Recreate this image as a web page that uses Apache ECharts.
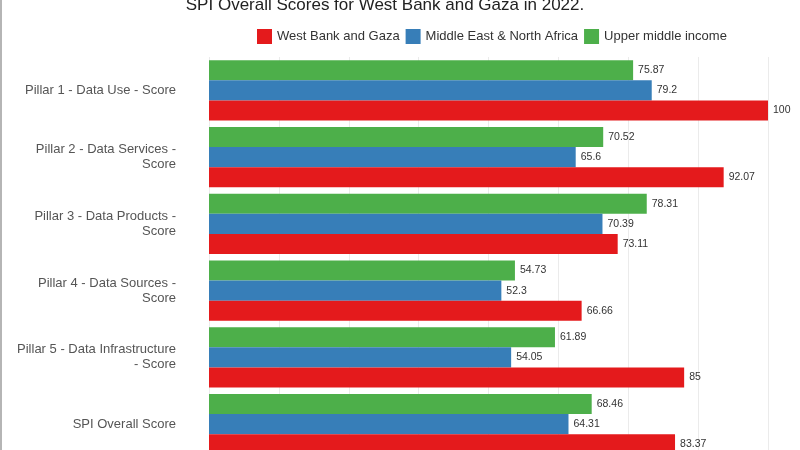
<!DOCTYPE html>
<html>
<head>
<meta charset="utf-8">
<script src="https://cdn.jsdelivr.net/npm/echarts@6/dist/echarts.min.js"></script>
<style>
html,body{margin:0;padding:0;background:#fff;}
#chart{width:800px;height:450px;}
</style>
</head>
<body>
<div id="chart"></div>
<script>
const titleText = 'SPI Overall Scores for West Bank and Gaza in 2022.';
const categories = [
  'Pillar 1 - Data Use - Score',
  'Pillar 2 - Data Services -\nScore',
  'Pillar 3 - Data Products -\nScore',
  'Pillar 4 - Data Sources -\nScore',
  'Pillar 5 - Data Infrastructure\n- Score',
  'SPI Overall Score'
];
const seriesNames = ['West Bank and Gaza', 'Middle East & North Africa', 'Upper middle income'];
const westBankGaza = [100, 92.07, 73.11, 66.66, 85, 83.37];
const menaValues = [79.2, 65.6, 70.39, 52.3, 54.05, 64.31];
const upperMiddle = [75.87, 70.52, 78.31, 54.73, 61.89, 68.46];
const colors = ['#e41a1c', '#377eb8', '#4daf4a'];

const chart = echarts.init(document.getElementById('chart'), null, {renderer: 'canvas'});

function barSeries(name, data, color) {
  return {
    name: name,
    type: 'bar',
    data: data,
    barGap: '0%',
    barCategoryGap: '10%',
    itemStyle: {color: color},
    label: {
      show: true,
      position: 'right',
      distance: 5,
      color: '#333',
      fontSize: 10.5,
      fontFamily: 'Liberation Sans, Arial, sans-serif'
    }
  };
}

chart.setOption({
  animation: false,
  backgroundColor: '#fff',
  title: {
    text: titleText,
    left: 380,
    textAlign: 'center',
    top: -8,
    textStyle: {fontSize: 17, fontWeight: 'normal', color: '#222', fontFamily: 'Liberation Sans, Arial, sans-serif'}
  },
  legend: {
    data: seriesNames,
    top: 24,
    left: 252,
    itemWidth: 15,
    itemHeight: 15,
    itemGap: 6,
    icon: 'rect',
    textStyle: {fontSize: 13, color: '#333', fontFamily: 'Liberation Sans, Arial, sans-serif'}
  },
  grid: {left: 209, width: 559, top: 57, height: 400.5, outerBoundsMode: 'none'},
  xAxis: {
    type: 'value',
    min: 0,
    max: 100,
    interval: 12.5,
    axisLabel: {show: false},
    axisLine: {show: false},
    axisTick: {show: false},
    splitLine: {show: true, lineStyle: {color: '#ebebeb', width: 1}}
  },
  yAxis: {
    type: 'category',
    data: categories,
    inverse: true,
    axisLine: {show: false},
    axisTick: {show: false},
    axisLabel: {
      color: '#555',
      fontSize: 13,
      margin: 33,
      align: 'right',
      lineHeight: 15,
      fontFamily: 'Liberation Sans, Arial, sans-serif'
    }
  },
  graphic: [{type: 'rect', shape: {x: 0, y: 0, width: 2, height: 450}, style: {fill: '#b5b5b5'}, silent: true}],
  series: [
    barSeries(seriesNames[2], upperMiddle, colors[2]),
    barSeries(seriesNames[1], menaValues, colors[1]),
    barSeries(seriesNames[0], westBankGaza, colors[0])
  ]
});
</script>
</body>
</html>
